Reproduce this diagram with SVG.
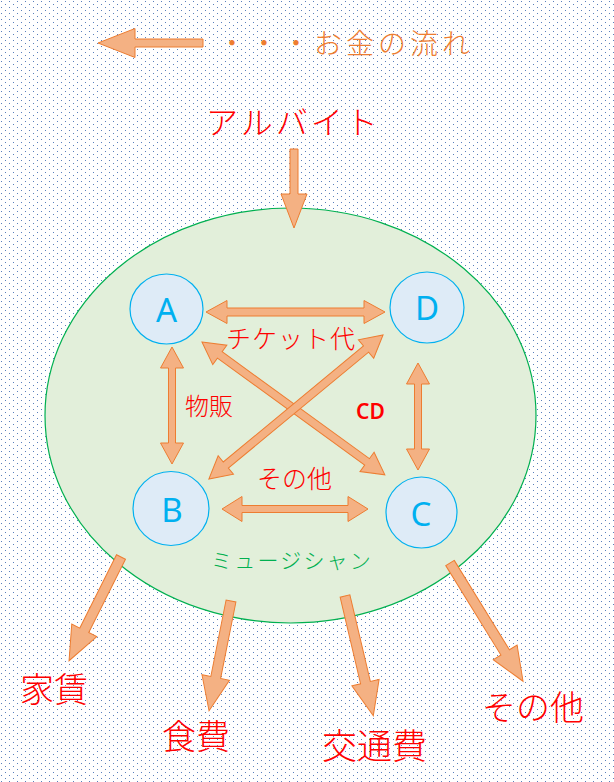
<svg xmlns="http://www.w3.org/2000/svg" width="614" height="782" viewBox="0 0 614 782">
<defs>
<pattern id="dots" width="8" height="6" patternUnits="userSpaceOnUse">
<rect x="1" y="1" width="1" height="1" fill="#5a80bb"/>
<rect x="5" y="4" width="1" height="1" fill="#5a80bb"/>
</pattern>
<style>
.arr{fill:#f4b183;stroke:#ed7d31;stroke-width:1;stroke-linejoin:miter}
.node{fill:#deebf7;stroke:#00b0f0;stroke-width:1.2}
.nl{font-family:"Noto Sans","Noto Sans CJK JP",sans-serif;font-size:33px;fill:#00b0f0;text-anchor:middle}
.red{font-family:"Noto Sans CJK JP",sans-serif;font-weight:300;fill:#ff0000}
</style>
</defs>
<rect width="614" height="782" fill="#ffffff"/>
<rect width="614" height="782" fill="url(#dots)"/>

<g id="legend">
<polygon class="arr" points="0,-4 68,-4 68,-14.5 105,0 68,14.5 68,4 0,4" transform="translate(203,43) rotate(180)"/>
<text x="218" y="54" font-family="Noto Sans CJK JP,sans-serif" font-weight="300" font-size="28" letter-spacing="4" fill="#ed7d31">・・・お金の流れ</text>
</g>

<g id="arubaito">
<text class="red" x="206" y="134" font-size="32" letter-spacing="3">アルバイト</text>
</g>

<g id="musician">
<ellipse cx="290.5" cy="415.5" rx="245.5" ry="207.5" fill="#e2efda" stroke="#00b050" stroke-width="1.2"/>
<text x="211" y="568" font-family="Noto Sans CJK JP,sans-serif" font-weight="300" font-size="21" letter-spacing="2.2" fill="#00b050">ミュージシャン</text>
</g>

<g id="nodeA"><ellipse class="node" cx="166.5" cy="309" rx="36.5" ry="35"/><text class="nl" x="166.5" y="322">A</text></g>
<g id="nodeD"><ellipse class="node" cx="427" cy="307.5" rx="37" ry="35.5"/><text class="nl" x="427" y="320">D</text></g>
<g id="nodeB"><ellipse class="node" cx="171" cy="508.5" rx="38" ry="37"/><text class="nl" x="172" y="522">B</text></g>
<g id="nodeC"><ellipse class="node" cx="421.5" cy="512.5" rx="35.5" ry="35.5"/><text class="nl" x="421" y="526">C</text></g>

<g id="connectors">
<polygon class="arr" points="0,-4 45,-4 45,-13 79,0 45,13 45,4 0,4" transform="translate(294,149) rotate(90)"/>
<polygon class="arr" points="0,0 21,-11.5 21,-4 158,-4 158,-11.5 179,0 158,11.5 158,4 21,4 21,11.5" transform="translate(206,312)"/>
<polygon class="arr" points="0,0 21,-11.5 21,-3.5 96,-3.5 96,-11.5 117,0 96,11.5 96,3.5 21,3.5 21,11.5" transform="translate(172,347) rotate(90)"/>
<polygon class="arr" points="0,0 21,-11.5 21,-3.5 86,-3.5 86,-11.5 107,0 86,11.5 86,3.5 21,3.5 21,11.5" transform="translate(418,363) rotate(90)"/>
<polygon class="arr" points="0,0 22,-12 22,-4 204,-4 204,-12 226,0 204,12 204,4 22,4 22,12" transform="translate(202,342) rotate(36)"/>
<polygon class="arr" points="0,0 22,-12 22,-4 204,-4 204,-12 226,0 204,12 204,4 22,4 22,12" transform="translate(383,335) rotate(140.4)"/>
<polygon class="arr" points="0,0 20,-12.5 20,-3.5 126,-3.5 126,-12.5 146,0 126,12.5 126,3.5 20,3.5 20,12.5" transform="translate(222,509)"/>
<polygon class="arr" points="0,-5 82,-5 82,-14 116,0 82,14 82,5 0,5" transform="translate(121,557) rotate(116.6)"/>
<polygon class="arr" points="0,-5 78,-5 78,-14 112,0 78,14 78,5 0,5" transform="translate(231,601) rotate(101.3)"/>
<polygon class="arr" points="0,-5 89,-5 89,-14 123,0 89,14 89,5 0,5" transform="translate(345,596) rotate(76.7)"/>
<polygon class="arr" points="0,-5 105,-5 105,-14 139,0 105,14 105,5 0,5" transform="translate(450,563) rotate(58.3)"/>
<text class="red" x="226" y="348" font-size="25" letter-spacing="1">チケット代</text>
<text class="red" x="185" y="415" font-size="24">物販</text>
<text x="356" y="419" font-family="Noto Sans,sans-serif" font-weight="600" font-size="21" fill="#ff0000">CD</text>
<text class="red" x="257" y="488" font-size="25">その他</text>
</g>

<g id="yachin"><text class="red" x="20" y="702" font-size="34">家賃</text></g>
<g id="shokuhi"><text class="red" x="162" y="749" font-size="34">食費</text></g>
<g id="koutsuuhi"><text class="red" x="322" y="759" font-size="35">交通費</text></g>
<g id="sonota"><text class="red" x="482" y="720" font-size="34">その他</text></g>
</svg>
